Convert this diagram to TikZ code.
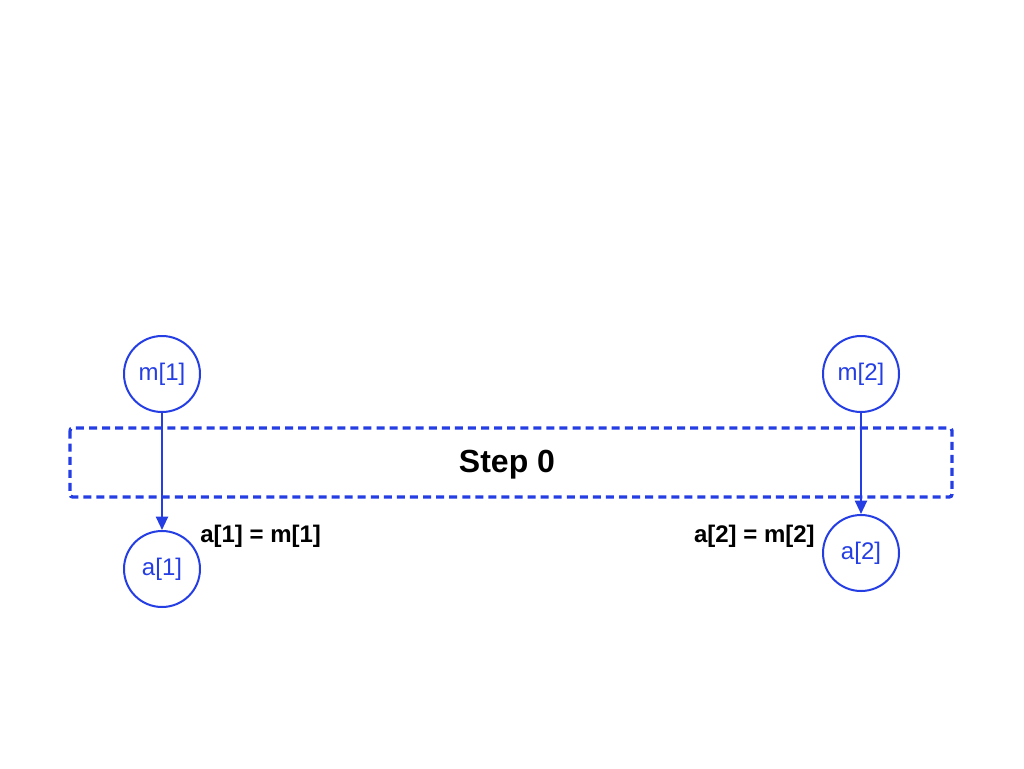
\documentclass[tikz,border=0pt]{standalone}
\usepackage{fontspec}
\setmainfont{Liberation Sans}
\usetikzlibrary{arrows.meta}
\definecolor{nodeblue}{RGB}{36,62,228}
\begin{document}
\begin{tikzpicture}[x=0.75pt,y=-0.75pt,
  state/.style={circle,draw=nodeblue,line width=1.5pt,minimum size=57pt,inner sep=0pt,
    text=nodeblue,font=\fontsize{18}{20}\selectfont},
  flow/.style={draw=nodeblue,line width=1.5pt,-{Triangle[length=10pt,width=9pt]}},
  stepbox/.style={draw=nodeblue,line width=2.5pt,dash pattern=on 6pt off 3.8pt,rounded corners=2pt},
  eqlabel/.style={font=\bfseries\fontsize{18}{20}\selectfont,inner sep=0pt}]
  \useasboundingbox (0,0) rectangle (1024,768);
  % step region
  \draw[stepbox] (70,428) rectangle (952,497);
  \node[font=\bfseries\fontsize{24}{26}\selectfont] (step) at (507,465) {Step 0};
  % memory and accumulator nodes
  \node[state] (m1) at (162,374) {m[1]};
  \node[state] (a1) at (162,569) {a[1]};
  \node[state] (m2) at (861,374) {m[2]};
  \node[state] (a2) at (861,553) {a[2]};
  % assignments
  \draw[flow] (m1) -- (a1);
  \draw[flow] (m2) -- (a2);
  \node[eqlabel,anchor=west] (l1) at (200,536) {a[1] = m[1]};
  \node[eqlabel,anchor=east] (l2) at (815,536) {a[2] = m[2]};
\end{tikzpicture}
\end{document}
